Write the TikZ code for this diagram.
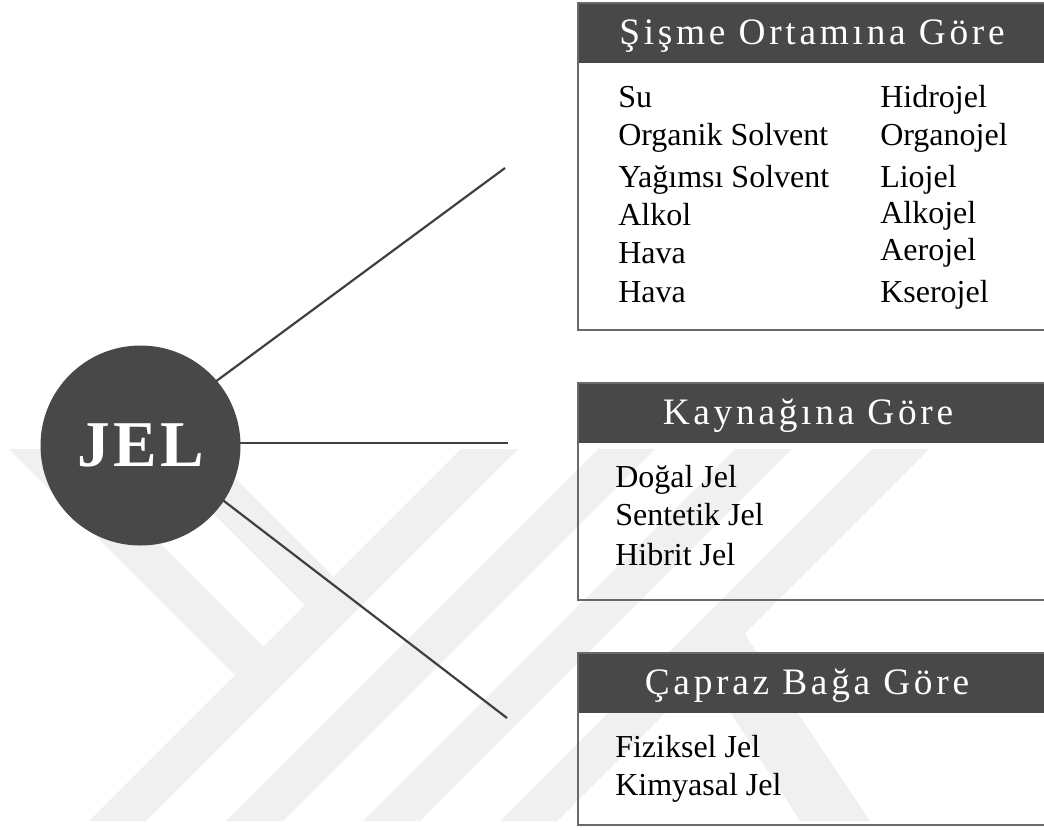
\documentclass[tikz,border=0pt]{standalone}
\usepackage{fontspec}
\setmainfont{Liberation Serif}
\newlength{\du}
\setlength{\du}{0.75pt}
\definecolor{koyu}{RGB}{72,72,72}
\definecolor{cizgi}{RGB}{64,64,64}
\definecolor{kenar}{RGB}{105,105,105}
\definecolor{filigran}{RGB}{240,240,240}
\tikzset{
  kol/.style={draw=cizgi, line width=2.2\du},
  kutu/.style={draw=kenar, line width=1.8\du},
  baslikbar/.style={fill=koyu},
  basliktext/.style={anchor=base, inner sep=0pt, text=white,
    font=\fontsize{28}{32}\selectfont\addfontfeatures{LetterSpace=10}},
  madde/.style={anchor=base west, inner sep=0pt, font=\fontsize{24}{28}\selectfont},
}

\begin{document}
\begin{tikzpicture}
\pgftransformxscale{1.000000}
\pgftransformyscale{-1.000000}
\useasboundingbox (0\du,0\du) rectangle (1044\du,829\du);
\begin{scope}
\clip (0\du,449\du) rectangle (1044\du,821\du);
\fill[filigran] (149\du,449\du)--(206\du,449\du)--(333.5\du,576.5\du)--(305\du,605\du)--cycle;
\fill[filigran] (9\du,449\du)--(66\du,449\du)--(292\du,675\du)--(263.5\du,703.5\du)--cycle;
\fill[filigran] (461\du,449\du)--(518\du,449\du)--(146\du,821\du)--(89\du,821\du)--cycle;
\fill[filigran] (598\du,449\du)--(655\du,449\du)--(283\du,821\du)--(226\du,821\du)--cycle;
\fill[filigran] (735\du,449\du)--(792\du,449\du)--(420\du,821\du)--(363\du,821\du)--cycle;
\fill[filigran] (872\du,449\du)--(929\du,449\du)--(557\du,821\du)--(500\du,821\du)--cycle;
\fill[filigran] (740\du,627\du)--(870\du,821\du)--(800\du,821\du)--(705\du,673\du)--cycle;
\end{scope}
\coordinate (merkez) at (140.5\du,437\du);
\coordinate (sismeUc) at (505\du,168\du);
\coordinate (kaynakUc) at (508\du,443\du);
\coordinate (caprazUc) at (507\du,718\du);
\draw[kol] (merkez) -- (sismeUc);
\draw[kol] (merkez |- kaynakUc) -- (kaynakUc);
\draw[kol] (merkez) -- (caprazUc);
\node[circle, fill=koyu, minimum size=200\du, inner sep=0pt, text=white,
  font=\fontsize{49}{52}\selectfont\bfseries\addfontfeatures{LetterSpace=5}] (jel) at (140.5\du,445.5\du) {JEL};
\fill[baslikbar] (578\du,3\du) rectangle (1046\du,63\du);
\draw[kutu] (578\du,3\du) rectangle (1046\du,330\du);
\node[basliktext] (sisme) at (812\du,44.5\du) {Şişme Ortamına Göre};
\node[madde] (su) at (618\du,107\du) {Su};
\node[madde] (organik) at (618\du,145\du) {Organik Solvent};
\node[madde] (yagimsi) at (618\du,187\du) {Yağımsı Solvent};
\node[madde] (alkol) at (618\du,225\du) {Alkol};
\node[madde] (havaA) at (618\du,263\du) {Hava};
\node[madde] (havaB) at (618\du,302\du) {Hava};
\node[madde] (hidrojel) at (880\du,107\du) {Hidrojel};
\node[madde] (organojel) at (880\du,145\du) {Organojel};
\node[madde] (liojel) at (880\du,187\du) {Liojel};
\node[madde] (alkojel) at (880\du,223\du) {Alkojel};
\node[madde] (aerojel) at (880\du,260\du) {Aerojel};
\node[madde] (kserojel) at (880\du,302\du) {Kserojel};
\fill[baslikbar] (578\du,383\du) rectangle (1046\du,443\du);
\draw[kutu] (578\du,383\du) rectangle (1046\du,600\du);
\node[basliktext] (kaynak) at (808\du,424.5\du) {Kaynağına Göre};
\node[madde] (dogal) at (615\du,487\du) {Doğal Jel};
\node[madde] (sentetik) at (615\du,525\du) {Sentetik Jel};
\node[madde] (hibrit) at (615\du,565\du) {Hibrit Jel};
\fill[baslikbar] (578\du,653\du) rectangle (1046\du,713\du);
\draw[kutu] (578\du,653\du) rectangle (1046\du,825\du);
\node[basliktext] (capraz) at (807\du,694.5\du) {Çapraz Bağa Göre};
\node[madde] (fiziksel) at (615\du,757\du) {Fiziksel Jel};
\node[madde] (kimyasal) at (615\du,795\du) {Kimyasal Jel};
\end{tikzpicture}
\end{document}
